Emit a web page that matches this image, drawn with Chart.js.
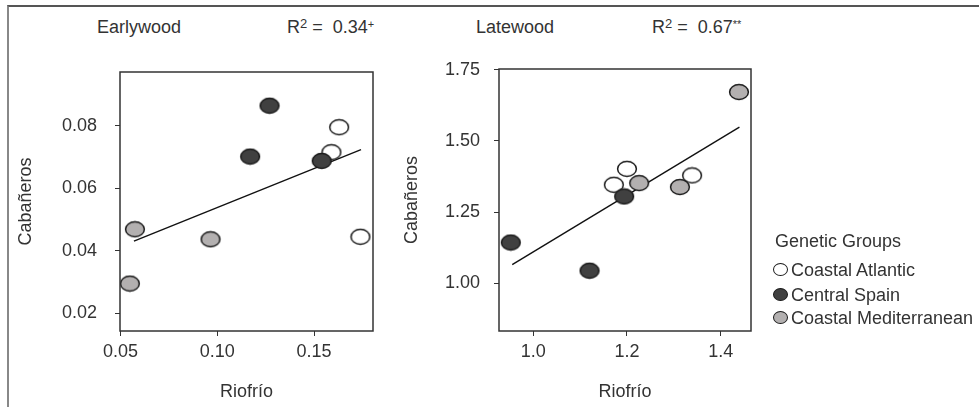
<!DOCTYPE html>
<html>
<head>
<meta charset="utf-8">
<script src="https://cdn.jsdelivr.net/npm/chart.js@4/dist/chart.umd.min.js"></script>
<style>
  html, body { margin:0; padding:0; background:#fff; }
  body { width:979px; height:407px; position:relative; overflow:hidden;
         font-family:"Liberation Sans", Arial, sans-serif; color:#333; }
  .frame { position:absolute; left:7px; top:5px; width:980px; height:410px;
           border-top:2px solid #555; border-left:2px solid #888; }
  .txt { position:absolute; font-size:18px; line-height:20px; white-space:nowrap; }
  .txt sup { font-size:13px; vertical-align:top; position:relative; top:-3px; }
  .txt sup.s { font-size:11px; }
  canvas { position:absolute; top:0; }
  #cL { left:0; }
  #cR { left:390px; }
  .leg { position:absolute; left:775px; font-size:18px; line-height:20px; white-space:nowrap; }
  .dot { display:inline-block; width:13px; height:11px; border:1.6px solid #1a1a1a; border-radius:50%;
         vertical-align:middle; margin-right:3px; position:relative; top:-2px; }
</style>
</head>
<body>
<div class="frame"></div>
<div id="titles"></div>
<div id="cw1"><canvas id="cL" width="400" height="407" style="width:400px;height:407px"></canvas></div>
<div id="cw2"><canvas id="cR" width="400" height="407" style="width:400px;height:407px"></canvas></div>
<div id="legend"></div>
<script>
// ---------- DATA ----------
const groups = ["Coastal Atlantic", "Central Spain", "Coastal Mediterranean"];
const legendTitle = "Genetic Groups";
const xAxisTitle = "Riofrío";
const yAxisTitle = "Cabañeros";

// Earlywood panel
const ewTitle = "Earlywood";
const ewR2 = "0.34";
const ewSig = "+";
const ewAtlanticX = [0.163, 0.159, 0.174];
const ewAtlanticY = [0.0796, 0.0716, 0.0445];
const ewCentralX  = [0.127, 0.117, 0.154];
const ewCentralY  = [0.0865, 0.0702, 0.0688];
const ewMedX      = [0.0574, 0.0965, 0.0548];
const ewMedY      = [0.0469, 0.0437, 0.0295];
const ewTrendX    = [0.0569, 0.1743];
const ewTrendY    = [0.0431, 0.0724];
const ewXTicks    = [0.05, 0.10, 0.15];
const ewYTicks    = [0.02, 0.04, 0.06, 0.08];

// Latewood panel
const lwTitle = "Latewood";
const lwR2 = "0.67";
const lwSig = "**";
const lwAtlanticX = [1.200, 1.172, 1.339];
const lwAtlanticY = [1.402, 1.346, 1.379];
const lwCentralX  = [1.194, 0.952, 1.120];
const lwCentralY  = [1.305, 1.143, 1.044];
const lwMedX      = [1.439, 1.226, 1.313];
const lwMedY      = [1.672, 1.352, 1.338];
const lwTrendX    = [0.955, 1.440];
const lwTrendY    = [1.065, 1.549];
const lwXTicks    = [1.0, 1.2, 1.4];
const lwYTicks    = [1.00, 1.25, 1.50, 1.75];

// ---------- STYLE ----------
const FONT = "'Liberation Sans', Arial, sans-serif";
const TXT = "#333";
const fills = ["#ffffff", "#404040", "#b3b0b0"];
const strokeCol = "#1a1a1a";

function ellipseImg(fill) {
  const c = document.createElement("canvas");
  c.width = 22; c.height = 18;
  const g = c.getContext("2d");
  g.beginPath();
  g.ellipse(11, 9, 9.4, 7.4, 0, 0, Math.PI * 2);
  g.fillStyle = fill; g.fill();
  g.lineWidth = 1.5; g.strokeStyle = strokeCol; g.stroke();
  return c;
}
const imgs = fills.map(ellipseImg);

const zip = (xs, ys) => xs.map((x, i) => ({x, y: ys[i]}));

const boxPlugin = {
  id: "box",
  afterDatasetsDraw(chart) {
    const a = chart.chartArea, ctx = chart.ctx;
    ctx.save();
    ctx.strokeStyle = "#333"; ctx.lineWidth = 1.5;
    ctx.strokeRect(a.left, a.top, a.right - a.left, a.bottom - a.top);
    ctx.restore();
  }
};

function makeChart(id, p) {
  const datasets = [
    { type: "line", label: "trend", data: zip(p.tX, p.tY), borderColor: "#111", borderWidth: 1.4,
      pointRadius: 0, fill: false, order: 4 },
    { label: groups[0], data: zip(p.aX, p.aY), pointStyle: imgs[0], order: 3 },
    { label: groups[1], data: zip(p.cX, p.cY), pointStyle: imgs[1], order: 2 },
    { label: groups[2], data: zip(p.mX, p.mY), pointStyle: imgs[2], order: 1 }
  ];
  return new Chart(document.getElementById(id), {
    type: "scatter",
    data: { datasets },
    options: {
      responsive: false, animation: false, events: [],
      layout: { padding: { top: p.padTop, right: p.padRight, left: 0, bottom: 0 } },
      plugins: { legend: { display: false }, tooltip: { enabled: false } },
      scales: {
        x: {
          type: "linear", min: p.xMin, max: p.xMax,
          afterBuildTicks: s => { s.ticks = p.xTicks.map(v => ({ value: v })); },
          afterFit: s => { s.height = 76; },
          ticks: { callback: v => Number(v).toFixed(p.xDec), color: TXT, padding: 5,
                   font: { family: FONT, size: 18 }, maxRotation: 0, autoSkip: false },
          grid: { drawOnChartArea: false, drawTicks: true, tickLength: 5, color: "#333" },
          border: { display: false },
          title: { display: true, text: xAxisTitle, color: TXT, font: { family: FONT, size: 18 },
                   padding: { top: 0, bottom: 4 } }
        },
        y: {
          type: "linear", min: p.yMin, max: p.yMax,
          afterBuildTicks: s => { s.ticks = p.yTicks.map(v => ({ value: v })); },
          afterFit: s => { s.width = p.yWidth; },
          ticks: { callback: v => Number(v).toFixed(2), color: TXT, padding: p.yPad,
                   font: { family: FONT, size: 18 }, autoSkip: false },
          grid: { drawOnChartArea: false, drawTicks: true, tickLength: 5, color: "#333" },
          border: { display: false },
          title: { display: true, text: yAxisTitle, color: TXT, font: { family: FONT, size: 18 },
                   padding: { top: p.yTitlePad, bottom: 0 } }
        }
      }
    },
    plugins: [boxPlugin]
  });
}

makeChart("cL", {
  aX: ewAtlanticX, aY: ewAtlanticY, cX: ewCentralX, cY: ewCentralY, mX: ewMedX, mY: ewMedY,
  tX: ewTrendX, tY: ewTrendY, xTicks: ewXTicks, yTicks: ewYTicks, xDec: 2,
  xMin: 0.0497, xMax: 0.1805, yMin: 0.0143, yMax: 0.0973,
  padTop: 72, padRight: 27, yWidth: 120, yPad: 18, yTitlePad: 15
});
makeChart("cR", {
  aX: lwAtlanticX, aY: lwAtlanticY, cX: lwCentralX, cY: lwCentralY, mX: lwMedX, mY: lwMedY,
  tX: lwTrendX, tY: lwTrendY, xTicks: lwXTicks, yTicks: lwYTicks, xDec: 1,
  xMin: 0.9268, xMax: 1.4647, yMin: 0.832, yMax: 1.753,
  padTop: 69, padRight: 39, yWidth: 109, yPad: 14, yTitlePad: 11
});

// ---------- panel titles ----------
const titles = document.getElementById("titles");
function addText(parent, html, left, top) {
  const d = document.createElement("div");
  d.className = "txt"; d.innerHTML = html;
  d.style.left = left + "px"; d.style.top = top + "px";
  parent.appendChild(d);
}
addText(titles, ewTitle, 97, 17);
addText(titles, "R<sup>2</sup> = &nbsp;" + ewR2 + "<sup class='s'>" + ewSig + "</sup>", 287, 17);
addText(titles, lwTitle, 476, 17);
addText(titles, "R<sup>2</sup> = &nbsp;" + lwR2 + "<sup class='s'>" + lwSig + "</sup>", 652, 17);

// ---------- legend ----------
const leg = document.getElementById("legend");
const lt = document.createElement("div");
lt.className = "leg"; lt.textContent = legendTitle; lt.style.top = "231px";
leg.appendChild(lt);
const legTops = [260, 285, 308];
groups.forEach((g, i) => {
  const d = document.createElement("div");
  d.className = "leg"; d.style.top = legTops[i] + "px"; d.style.left = "773px";
  const s = document.createElement("span");
  s.className = "dot"; s.style.background = fills[i];
  d.appendChild(s);
  d.appendChild(document.createTextNode(g));
  leg.appendChild(d);
});
</script>
</body>
</html>
